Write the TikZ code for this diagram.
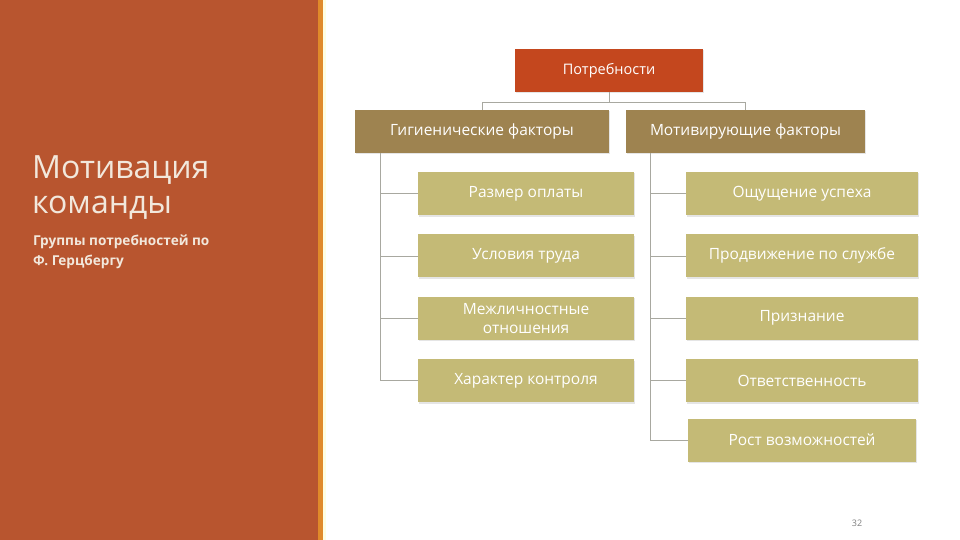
\documentclass[tikz,border=0pt]{standalone}
\usepackage{fontspec}
\setmainfont{Open Sans}
\usetikzlibrary{positioning, shadows}
\definecolor{panelrust}{HTML}{B8552F}
\definecolor{stripeorange}{HTML}{E08A2A}
\definecolor{rootred}{HTML}{C4471E}
\definecolor{groupbrown}{HTML}{9E8350}
\definecolor{leafkhaki}{HTML}{C4BA76}
\definecolor{linegray}{HTML}{A8A8A0}
\definecolor{titlecream}{HTML}{F2E8DC}
\tikzstyle{box} = [rectangle, minimum height=43pt, inner sep=0pt, align=center, text=white, font=\fontsize{15.5}{18}\selectfont, drop shadow={opacity=0.2, shadow xshift=1pt, shadow yshift=-1.5pt}]
\tikzstyle{root} = [box, fill=rootred, minimum width=188pt, font=\fontsize{14.5}{17}\selectfont]
\tikzstyle{group} = [box, fill=groupbrown]
\tikzstyle{leaf} = [box, fill=leafkhaki]
\tikzstyle{link} = [draw=linegray, line width=0.7pt]

\begin{document}
\begin{tikzpicture}[x=1pt, y=-1pt]
    \useasboundingbox (0,0) rectangle (960,540);
    \fill[white] (0,0) rectangle (960,540);
    % left panel
    \fill[panelrust] (0,0) rectangle (318,540);
    \fill[stripeorange] (318,0) rectangle (323,540);
    \fill[yellow!12] (323,0) rectangle (326,540);
    \node[anchor=north west, align=left, text=titlecream, font=\fontsize{32}{35}\selectfont, inner sep=0pt] (title) at (32,155) {Мотивация\\команды};
    \node[anchor=north west, align=left, text=titlecream, font=\bfseries\fontsize{13.6}{20}\selectfont, inner sep=0pt] (subtitle) at (33,235) {Группы потребностей по\\Ф. Герцбергу};

    % tree
    \node[root] (needs) at (609,70.5) {Потребности};
    \node[group, minimum width=254pt] (hyg) at (482,131.5) {Гигиенические факторы};
    \node[group, minimum width=239pt] (mot) at (745.5,131.5) {Мотивирующие факторы};

    \node[leaf, minimum width=216pt] (h1) at (526,193.5) {Размер оплаты};
    \node[leaf, minimum width=216pt, below=19pt of h1] (h2) {Условия труда};
    \node[leaf, minimum width=216pt, below=19pt of h2, font=\fontsize{15.5}{19}\selectfont] (h3) {Межличностные\\отношения};
    \node[leaf, minimum width=216pt, below=19pt of h3] (h4) {Характер контроля};

    \node[leaf, minimum width=232pt] (m1) at (802,193.5) {Ощущение успеха};
    \node[leaf, minimum width=232pt, below=19pt of m1] (m2) {Продвижение по службе};
    \node[leaf, minimum width=232pt, below=19pt of m2] (m3) {Признание};
    \node[leaf, minimum width=232pt, below=19pt of m3] (m4) {Ответственность};
    \node[leaf, minimum width=228pt, below=16pt of m4] (m5) {Рост возможностей};

    \coordinate (fork) at (609,102);
    \draw[link] (needs.south) -- (fork);
    \draw[link] (fork) -| (hyg.north);
    \draw[link] (fork) -| (mot.north);
    \foreach \n in {h1,h2,h3,h4}
        \draw[link] ([xshift=26pt]hyg.south west) |- (\n.west);
    \foreach \n in {m1,m2,m3,m4,m5}
        \draw[link] ([xshift=25pt]mot.south west) |- (\n.west);

    \node[text=gray, font=\fontsize{9}{10}\selectfont] (page) at (857,523) {32};
\end{tikzpicture}
\end{document}
